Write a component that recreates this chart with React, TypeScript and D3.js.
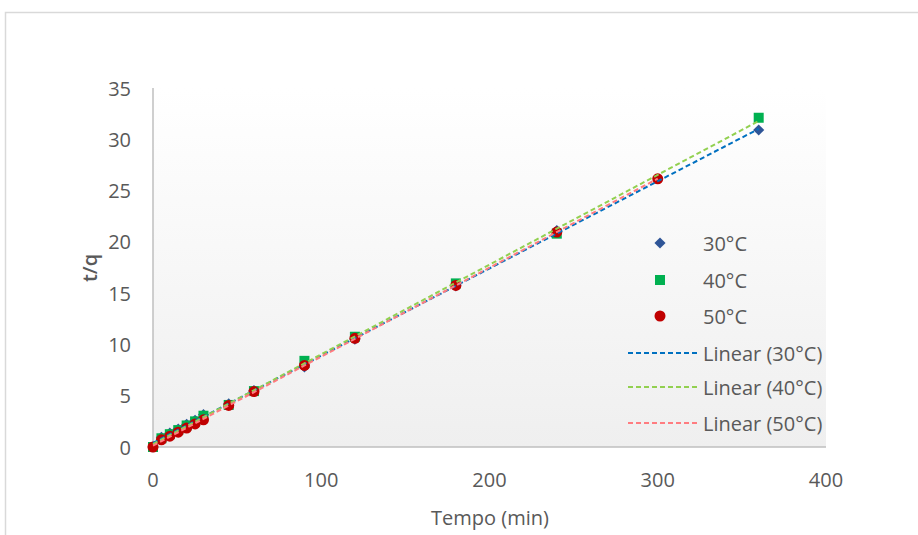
import React from "react";
import * as d3 from "d3";

// Pseudo-second-order kinetics: t/q versus contact time
const times30 = [0, 5, 10, 15, 20, 25, 30, 45, 60, 90, 120, 180, 240, 360];
const tq30 = [0, 0.95, 1.35, 1.75, 2.2, 2.6, 3.15, 4.2, 5.5, 7.8, 10.5, 15.7, 21.1, 30.9];

const times40 = [0, 5, 10, 15, 20, 25, 30, 45, 60, 90, 120, 180, 240, 360];
const tq40 = [0, 0.85, 1.25, 1.65, 2.1, 2.5, 3.05, 4.1, 5.45, 8.4, 10.75, 15.95, 20.8, 32.1];

const times50 = [0, 5, 10, 15, 20, 25, 30, 45, 60, 90, 120, 180, 240, 300];
const tq50 = [0, 0.7, 1.05, 1.45, 1.85, 2.25, 2.65, 4.05, 5.4, 7.95, 10.6, 15.75, 20.95, 26.15];

const seriesNames = ["30°C", "40°C", "50°C"];
const markerColors = ["#2f5597", "#00b050", "#c00000"];
const trendColors = ["#0070c0", "#92d050", "#ff7c80"];

const xTicks = [0, 100, 200, 300, 400];
const yTicks = [0, 5, 10, 15, 20, 25, 30, 35];

const W = 918;
const H = 535;
const plot = { left: 153, right: 826, top: 88, bottom: 447 };
const font = "'Open Sans', sans-serif";
const fontSize = 20;
const textColor = "#595959";

function linearFit(xs: number[], ys: number[]) {
  const mx = d3.mean(xs)!;
  const my = d3.mean(ys)!;
  let num = 0;
  let den = 0;
  xs.forEach((x, i) => {
    num += (x - mx) * (ys[i] - my);
    den += (x - mx) * (x - mx);
  });
  const slope = num / den;
  return { slope, intercept: my - slope * mx };
}

export default function App() {
  const x = d3.scaleLinear().domain([0, 400]).range([plot.left, plot.right]);
  const y = d3.scaleLinear().domain([0, 35]).range([plot.bottom, plot.top]);

  const series = [
    { xs: times30, ys: tq30 },
    { xs: times40, ys: tq40 },
    { xs: times50, ys: tq50 },
  ];

  const line = d3
    .line<[number, number]>()
    .x((d) => x(d[0]))
    .y((d) => y(d[1]));

  // diamond = square rotated by 45°
  const diamond = d3.symbol(d3.symbolSquare, 62)()!;
  const square = d3.symbol(d3.symbolSquare, 100)()!;
  const circle = d3.symbol(d3.symbolCircle, 95)()!;
  const shapes = [diamond, square, circle];
  const rot = [45, 0, 0];

  const legendX = 660;
  const legendTextX = 703;
  const legendRows = [243, 280, 316, 353, 387, 423];

  return (
    <svg
      width={W}
      height={H}
      style={{ position: "absolute", left: 0, top: 0, background: "#fff" }}
    >
      <defs>
        <linearGradient id="plotBg" x1="0" y1="0" x2="0" y2="1">
          <stop offset="0" stopColor="#ffffff" />
          <stop offset="1" stopColor="#efefef" />
        </linearGradient>
      </defs>
      <rect x={5.5} y={12.5} width={W + 20} height={H + 20} fill="#fff" stroke="#d9d9d9" strokeWidth={1.5} />
      <rect
        x={plot.left}
        y={plot.top}
        width={plot.right - plot.left}
        height={plot.bottom - plot.top}
        fill="url(#plotBg)"
      />

      {/* axes */}
      <line x1={plot.left} x2={plot.left} y1={plot.top} y2={plot.bottom} stroke="#bfbfbf" strokeWidth={1.5} />
      <line x1={plot.left} x2={plot.right} y1={plot.bottom} y2={plot.bottom} stroke="#bfbfbf" strokeWidth={1.5} />

      {yTicks.map((t) => (
        <text
          key={"y" + t}
          x={131}
          y={y(t)}
          textAnchor="end"
          dominantBaseline="central"
          fontFamily={font}
          fontSize={fontSize}
          fill={textColor}
        >
          {t}
        </text>
      ))}
      {xTicks.map((t) => (
        <text
          key={"x" + t}
          x={x(t)}
          y={479}
          textAnchor="middle"
          dominantBaseline="central"
          fontFamily={font}
          fontSize={fontSize}
          fill={textColor}
        >
          {t}
        </text>
      ))}

      <text
        transform={`translate(89, ${268}) rotate(-90)`}
        textAnchor="middle"
        dominantBaseline="central"
        fontFamily={font}
        fontSize={20}
        fontWeight={600}
        fill={textColor}
      >
        t/q
      </text>
      <text
        x={490}
        y={517}
        textAnchor="middle"
        dominantBaseline="central"
        fontFamily={font}
        fontSize={fontSize}
        fill={textColor}
      >
        Tempo (min)
      </text>

      {/* markers */}
      {series.map((s, si) => (
        <g key={"m" + si} fill={markerColors[si]}>
          {s.xs.map((t, i) => (
            <path
              key={i}
              d={shapes[si]}
              transform={`translate(${x(t)},${y(s.ys[i])}) rotate(${rot[si]})`}
            />
          ))}
        </g>
      ))}

      {/* linear trend lines */}
      {series.map((s, si) => {
        const fit = linearFit(s.xs, s.ys);
        const x0 = d3.min(s.xs)!;
        const x1 = d3.max(s.xs)!;
        const pts: [number, number][] = [
          [x0, fit.intercept + fit.slope * x0],
          [x1, fit.intercept + fit.slope * x1],
        ];
        return (
          <path
            key={"t" + si}
            d={line(pts)!}
            fill="none"
            stroke={trendColors[si]}
            strokeWidth={2}
            strokeDasharray="5,3"
          />
        );
      })}

      {/* legend */}
      {seriesNames.map((n, i) => (
        <g key={"lm" + i}>
          <path
            d={shapes[i]}
            transform={`translate(${legendX},${legendRows[i]}) rotate(${rot[i]})`}
            fill={markerColors[i]}
          />
          <text
            x={legendTextX}
            y={legendRows[i]}
            dominantBaseline="central"
            fontFamily={font}
            fontSize={fontSize}
            fill={textColor}
          >
            {n}
          </text>
        </g>
      ))}
      {seriesNames.map((n, i) => (
        <g key={"ll" + i}>
          <line
            x1={628}
            x2={697}
            y1={legendRows[i + 3]}
            y2={legendRows[i + 3]}
            stroke={trendColors[i]}
            strokeWidth={2}
            strokeDasharray="5,3"
          />
          <text
            x={703}
            y={legendRows[i + 3]}
            dominantBaseline="central"
            fontFamily={font}
            fontSize={fontSize}
            fill={textColor}
          >
            {`Linear (${n})`}
          </text>
        </g>
      ))}
    </svg>
  );
}
